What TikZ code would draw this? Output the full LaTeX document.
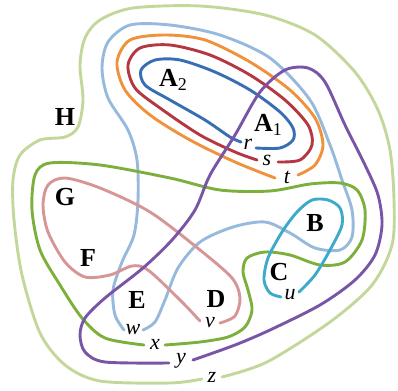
\documentclass[tikz,border=0pt]{standalone}
\usepackage{fontspec}
\setmainfont{Liberation Serif}
\definecolor{cBlue}{RGB}{55,110,180}
\definecolor{cRed}{RGB}{180,55,65}
\definecolor{cOrange}{RGB}{240,145,60}
\definecolor{cSky}{RGB}{150,185,220}
\definecolor{cGreen}{RGB}{125,175,60}
\definecolor{cPurple}{RGB}{120,85,165}
\definecolor{cPale}{RGB}{195,215,155}
\definecolor{cPink}{RGB}{215,150,150}
\definecolor{cTeal}{RGB}{60,170,200}
\tikzset{
  basecurve/.style={line width=2.9pt,line cap=round,line join=round},
  rcurve/.style={basecurve,draw=cBlue},
  scurve/.style={basecurve,draw=cRed},
  tcurve/.style={basecurve,draw=cOrange},
  wcurve/.style={basecurve,draw=cSky},
  xcurve/.style={basecurve,draw=cGreen},
  ycurve/.style={basecurve,draw=cPurple},
  zcurve/.style={basecurve,draw=cPale},
  vcurve/.style={basecurve,draw=cPink},
  ucurve/.style={basecurve,draw=cTeal},
  regionlbl/.style={inner sep=0pt,font=\fontsize{26}{26}\selectfont\bfseries},
  gaplbl/.style={inner sep=0pt,font=\fontsize{22}{22}\selectfont\itshape}
}
\newcommand{\subidx}[1]{\raisebox{-0.35ex}{\fontsize{18}{18}\selectfont\mdseries #1}}

\begin{document}
\begin{tikzpicture}[x=1pt,y=-1pt]
  \useasboundingbox (0,0) rectangle (398,390);

  % curves, each left open where its letter sits
  \draw[zcurve] plot[smooth] coordinates {(222,377) (267,362) (330,322) (372,285) (392,245)
    (394,200) (390,150) (378,110) (355,72) (315,35) (265,15) (200,6) (133,8) (100,20) (85,38)
    (80,65) (83,100) (78,127) (65,137) (40,140) (20,155) (13,180) (14,220) (22,275) (40,333)
    (65,365) (100,381) (170,383) (202,379)};
  \draw[wcurve] plot[smooth] coordinates {(143,330) (155,322) (165,300) (178,268) (200,242)
    (233,227) (265,222) (290,233) (315,248) (340,250) (352,237) (352,210) (342,180) (330,145)
    (310,100) (270,58) (220,35) (170,25) (130,25) (108,42) (102,68) (108,98) (128,130)
    (137,160) (138,200) (134,235) (122,262) (113,290) (115,315) (124,330)};
  \draw[tcurve] plot[smooth] coordinates {(298,175) (315,165) (323,145) (315,118) (290,90)
    (250,62) (205,40) (165,35) (130,40) (117,62) (125,90) (150,115) (190,140) (235,162) (275,178)};
  \draw[scurve] plot[smooth] coordinates {(278,162) (300,160) (312,145) (308,125) (285,100)
    (250,75) (210,55) (170,45) (140,48) (128,65) (135,88) (160,108) (200,135) (235,152) (257,160)};
  \draw[rcurve] plot[smooth] coordinates {(256,148) (280,148) (293,140) (293,128) (280,112)
    (250,90) (215,72) (180,60) (155,60) (141,70) (145,85) (170,100) (205,120) (230,137) (241,142)};
  \draw[vcurve] plot[smooth] coordinates {(220,323) (235,316) (240,298) (232,278) (200,250)
    (150,212) (100,188) (65,178) (48,185) (43,205) (48,232) (65,262) (85,277) (110,275)
    (132,266) (148,270) (180,300) (200,321)};
  \draw[xcurve] plot[smooth] coordinates {(165,345) (200,342) (228,337) (245,327) (252,310)
    (248,290) (243,272) (247,258) (265,252) (290,255) (320,265) (345,262) (362,240) (365,210)
    (357,190) (340,183) (310,184) (270,191) (220,190) (170,178) (100,165) (50,163) (35,175)
    (32,210) (40,250) (60,285) (82,318) (105,338) (144,345)};
  \draw[ucurve] plot[smooth] coordinates {(299,292) (315,275) (330,250) (342,225) (340,208)
    (328,200) (312,200) (297,212) (282,232) (268,258) (264,280) (270,293) (281,297)};
  \draw[ycurve] plot[smooth] coordinates {(193,360) (235,345) (270,330) (320,305) (355,280)
    (375,255) (382,225) (378,195) (365,165) (345,125) (325,82) (308,68) (285,70) (260,92)
    (235,135) (210,175) (195,210) (172,240) (143,268) (105,298) (85,318) (80,335) (85,352)
    (105,362) (169,363)};

  % region letters
  \node[regionlbl] (lblH) at (65,117) {H};
  \node[regionlbl] (lblA2) at (173,80) {A\subidx{2}};
  \node[regionlbl] (lblA1) at (268,125) {A\subidx{1}};
  \node[regionlbl] (lblG) at (65,197) {G};
  \node[regionlbl] (lblF) at (88,258) {F};
  \node[regionlbl] (lblE) at (137,300) {E};
  \node[regionlbl] (lblD) at (216,299) {D};
  \node[regionlbl] (lblB) at (315,223) {B};
  \node[regionlbl] (lblC) at (279,272) {C};

  % gap letters
  \node[gaplbl] (gr) at (248,144) {r};
  \node[gaplbl] (gs) at (267,160) {s};
  \node[gaplbl] (gt) at (287,177) {t};
  \node[gaplbl] (gu) at (290,295) {u};
  \node[gaplbl] (gv) at (210,323) {v};
  \node[gaplbl] (gw) at (133,330) {w};
  \node[gaplbl] (gx) at (155,344) {x};
  \node[gaplbl] (gy) at (181,361) {y};
  \node[gaplbl] (gz) at (212,377) {z};
\end{tikzpicture}
\end{document}
